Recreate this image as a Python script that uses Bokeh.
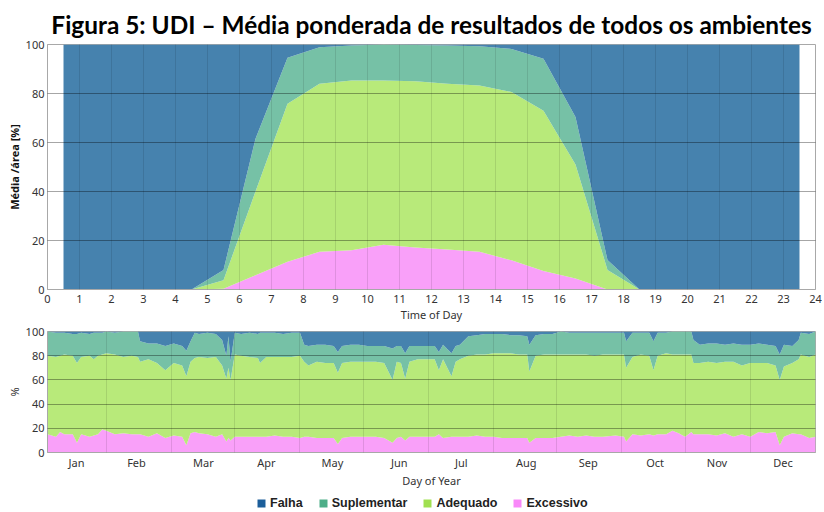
from bokeh.plotting import figure
from bokeh.layouts import column
from bokeh.models import ColumnDataSource, Range1d, FixedTicker, Legend, LegendItem
from bokeh.embed import file_html
from bokeh.resources import INLINE

# ---------------- data ----------------
title_text = "Figura 5: UDI \u2013 Média ponderada de resultados de todos os ambientes"
series = ["Excessivo", "Adequado", "Suplementar", "Falha"]          # bottom -> top
legend_order = ["Falha", "Suplementar", "Adequado", "Excessivo"]
area_colors = {"Falha": "#4682AE", "Suplementar": "#76C1A6",
               "Adequado": "#B8EA7A", "Excessivo": "#F9A0F9"}
swatch_colors = {"Falha": "#1C5E9A", "Suplementar": "#4DAE88",
                 "Adequado": "#A0E050", "Excessivo": "#F988F9"}

# Top chart: hourly averages (%)
hours = [0.5, 1.5, 2.5, 3.5, 4.5, 5.5, 6.5, 7.5, 8.5, 9.5, 10.5, 11.5,
         12.5, 13.5, 14.5, 15.5, 16.5, 17.5, 18.5, 19.5, 20.5, 21.5, 22.5, 23.5]
exc_h = [0, 0, 0, 0, 0, 0.3, 5.8, 11.3, 15.4, 16.0, 18.3, 17.1,
         16.3, 15.4, 11.9, 7.6, 4.5, 0, 0, 0, 0, 0, 0, 0]
adeq_h = [0, 0, 0, 0, 0, 3.5, 34.2, 64.5, 68.6, 69.3, 67.0, 67.9,
          67.7, 67.9, 68.7, 65.4, 46.5, 8.0, 0, 0, 0, 0, 0, 0]
supl_h = [0, 0, 0, 0, 0, 4.2, 21.5, 18.8, 14.9, 14.3, 14.7, 14.8,
          15.6, 16.0, 17.6, 21.2, 19.4, 4.0, 0, 0, 0, 0, 0, 0]
falha_h = [100, 100, 100, 100, 100, 92.0, 38.5, 5.4, 1.1, 0.4, 0, 0.2,
           0.4, 0.7, 1.8, 5.8, 29.6, 88.0, 100, 100, 100, 100, 100, 100]
hour_ticks = list(range(25))
pct_ticks = [0, 20, 40, 60, 80, 100]

# Bottom chart: daily values (%)
days = [0, 4, 6, 8, 12, 14, 16, 20, 22, 24, 26, 28, 32, 36, 40, 43, 44, 48, 52, 56,
        60, 64, 66, 68, 70, 72, 76, 80, 83, 85, 86, 87, 89, 92, 96, 100, 101, 104, 108, 112,
        116, 120, 122, 124, 128, 132, 136, 138, 140, 144, 148, 152, 156, 160, 164, 166, 168, 170, 172, 176,
        180, 184, 186, 188, 192, 194, 196, 200, 204, 208, 212, 216, 220, 224, 228, 229, 232, 236, 240, 244,
        248, 252, 256, 260, 264, 270, 274, 275, 278, 282, 286, 288, 290, 294, 297, 300, 303, 306, 307, 310,
        314, 318, 322, 326, 330, 334, 338, 342, 346, 348, 350, 354, 357, 358, 362, 365]
exc_d = [15, 13, 17, 15, 15, 8, 15, 13, 14, 15, 19, 18, 15, 16, 15, 15, 15, 13, 16, 12,
         14, 13, 6, 16, 17, 16, 15, 13, 15, 9, 12, 10, 13, 13, 13, 13, 13, 13, 14, 13,
         13, 12, 13, 13, 12, 12, 12, 7, 12, 13, 13, 13, 13, 12, 8, 12, 13, 10, 13, 13,
         13, 13, 15, 12, 13, 13, 13, 13, 14, 13, 13, 12, 12, 12, 12, 8, 12, 12, 12, 13,
         14, 13, 14, 13, 13, 14, 13, 9, 15, 14, 15, 14, 15, 15, 18, 16, 13, 17, 15, 15,
         15, 14, 16, 13, 15, 13, 17, 16, 17, 6, 13, 16, 15, 15, 12, 13]
adeq_d = [65, 66, 63, 66, 65, 66, 64, 67, 63, 65, 62, 64, 66, 63, 65, 64, 60, 64, 58, 56,
          60, 59, 57, 59, 61, 63, 63, 66, 57, 52, 58, 50, 68, 67, 66, 65, 61, 66, 65, 66,
          66, 68, 62, 59, 63, 62, 62, 59, 62, 62, 62, 62, 62, 62, 52, 63, 61, 51, 62, 64,
          64, 64, 53, 65, 50, 62, 64, 67, 67, 68, 69, 70, 70, 69, 69, 59, 68, 69, 69, 68,
          67, 68, 67, 67, 68, 67, 68, 61, 64, 67, 65, 54, 65, 67, 63, 65, 68, 64, 59, 59,
          60, 60, 59, 62, 57, 61, 57, 58, 55, 54, 58, 58, 62, 66, 67, 68]
supl_d = [20, 20, 19, 18, 18, 24, 20, 18, 22, 19, 18, 18, 18, 21, 20, 21, 17, 13, 16, 20,
          16, 16, 21, 17, 21, 19, 21, 19, 21, 19, 26, 15, 18, 18, 20, 20, 25, 20, 20, 19,
          20, 19, 14, 16, 14, 15, 14, 17, 14, 14, 14, 13, 13, 14, 26, 13, 14, 21, 13, 11,
          11, 11, 15, 12, 19, 13, 12, 16, 16, 17, 16, 16, 15, 16, 15, 22, 17, 17, 17, 19,
          18, 18, 18, 19, 18, 18, 18, 22, 20, 18, 19, 24, 19, 17, 19, 19, 19, 19, 19, 15,
          15, 16, 14, 15, 17, 15, 16, 15, 16, 21, 18, 14, 16, 18, 19, 19]
falha_d = [0, 1, 1, 1, 2, 2, 1, 2, 1, 1, 1, 0, 1, 0, 0, 0, 8, 10, 10, 12,
           10, 12, 16, 8, 1, 2, 1, 2, 7, 20, 4, 25, 1, 2, 1, 2, 1, 1, 1, 2,
           1, 1, 11, 12, 11, 11, 12, 17, 12, 11, 11, 12, 12, 12, 14, 12, 12, 18, 12, 12,
           12, 12, 17, 11, 18, 12, 11, 4, 3, 2, 2, 2, 3, 3, 4, 11, 3, 2, 2, 0,
           1, 1, 1, 1, 1, 1, 1, 8, 1, 1, 1, 8, 1, 1, 0, 0, 0, 0, 7, 11,
           10, 10, 11, 10, 11, 11, 10, 11, 12, 19, 11, 12, 7, 1, 2, 0]
month_labels = ["Jan", "Feb", "Mar", "Apr", "May", "Jun",
                "Jul", "Aug", "Sep", "Oct", "Nov", "Dec"]
month_mid = [13.8, 42.3, 74.1, 104, 135.4, 167.2, 196.7, 227.5, 257, 288.8, 318.2, 349.6]
month_bounds = [28, 59, 89, 120, 150, 181, 212, 242, 273, 303, 334]

TICK_FONT = "Noto Sans"
W = 822


def style_axes(p, label_standoff):
    for ax in (p.xaxis[0], p.yaxis[0]):
        ax.major_tick_line_color = None
        ax.minor_tick_line_color = None
        ax.major_tick_out = 0
        ax.major_tick_in = 0
        ax.minor_tick_out = 0
        ax.minor_tick_in = 0
        ax.axis_line_color = "#A8A8A8"
        ax.major_label_text_font = TICK_FONT
        ax.major_label_text_font_size = "11px"
        ax.major_label_text_color = "#333333"
        ax.major_label_standoff = 3
        ax.axis_label_text_font = TICK_FONT
        ax.axis_label_text_font_size = "11px"
        ax.axis_label_text_font_style = "normal"
        ax.axis_label_text_color = "#333333"
        ax.axis_label_standoff = 1
    p.xaxis[0].major_label_standoff = label_standoff
    p.outline_line_color = "#A8A8A8"
    p.xgrid.level = "overlay"
    p.ygrid.level = "overlay"
    p.xgrid.grid_line_color = "#000000"
    p.xgrid.grid_line_alpha = 0.10
    p.ygrid.grid_line_color = "#000000"
    p.ygrid.grid_line_alpha = 0.35


# ---------------- top chart ----------------
p1 = figure(width=W, height=325, x_range=Range1d(0, 24), y_range=Range1d(0, 100),
            output_backend="svg", toolbar_location=None,
            min_border_left=47, min_border_right=6, min_border_top=44, min_border_bottom=36)
p1.title.text = title_text
p1.title.text_font = "Lato"
p1.title.text_font_size = "24.4px"
p1.title.text_font_style = "bold"
p1.title.text_color = "#000000"
p1.title.align = "center"
p1.title.standoff = 11

src1 = ColumnDataSource(dict(x=hours, Excessivo=exc_h, Adequado=adeq_h,
                             Suplementar=supl_h, Falha=falha_h))
p1.varea_stack(stackers=series, x="x", color=[area_colors[s] for s in series], source=src1)

p1.xaxis.ticker = FixedTicker(ticks=hour_ticks)
p1.yaxis.ticker = FixedTicker(ticks=pct_ticks)
p1.xaxis.axis_label = "Time of Day"
p1.yaxis.axis_label = "Média /área [%]"
style_axes(p1, 5)
p1.yaxis.axis_label_text_font_style = "bold"
p1.yaxis.axis_label_text_color = "#111111"
p1.xgrid.ticker = FixedTicker(ticks=hour_ticks[1:-1])
p1.ygrid.ticker = FixedTicker(ticks=pct_ticks[1:-1])

# ---------------- bottom chart ----------------
p2 = figure(width=W, height=165, x_range=Range1d(0, 365), y_range=Range1d(0, 100),
            output_backend="svg", toolbar_location=None,
            min_border_left=47, min_border_right=7, min_border_top=6, min_border_bottom=38)
src2 = ColumnDataSource(dict(x=days, Excessivo=exc_d, Adequado=adeq_d,
                             Suplementar=supl_d, Falha=falha_d))
p2.varea_stack(stackers=series, x="x", color=[area_colors[s] for s in series], source=src2)

p2.xaxis.ticker = FixedTicker(ticks=month_mid)
p2.xaxis.major_label_overrides = {m: lab for m, lab in zip(month_mid, month_labels)}
p2.yaxis.ticker = FixedTicker(ticks=pct_ticks)
p2.xaxis.axis_label = "Day of Year"
p2.yaxis.axis_label = "%"
style_axes(p2, 2)
p2.xaxis.axis_label_standoff = 0
p2.xgrid.ticker = FixedTicker(ticks=month_bounds)
p2.ygrid.ticker = FixedTicker(ticks=pct_ticks[1:-1])

# ---------------- legend strip ----------------
p3 = figure(width=W, height=20, x_range=Range1d(0, 1), y_range=Range1d(0, 1),
            output_backend="svg", toolbar_location=None,
            min_border_left=0, min_border_right=0, min_border_top=0, min_border_bottom=0)
p3.axis.visible = False
p3.grid.visible = False
p3.outline_line_color = None
items = []
nan = float("nan")
for name in legend_order:
    r = p3.quad(left=[nan], right=[nan], top=[nan], bottom=[nan],
                fill_color=swatch_colors[name], line_color=None)
    items.append(LegendItem(label=name, renderers=[r]))
legend = Legend(items=items, orientation="horizontal", location=(209, 0),
                border_line_color=None, background_fill_alpha=0,
                label_text_font="Liberation Sans", label_text_font_style="bold",
                label_text_font_size="12.5px", label_text_color="#222222",
                glyph_width=10, glyph_height=10, spacing=15, padding=0, margin=0,
                label_standoff=4, label_height=12)
p3.add_layout(legend)

layout = column(p1, p2, p3, spacing=0)
open("out.html", "w").write(file_html(layout, INLINE))
